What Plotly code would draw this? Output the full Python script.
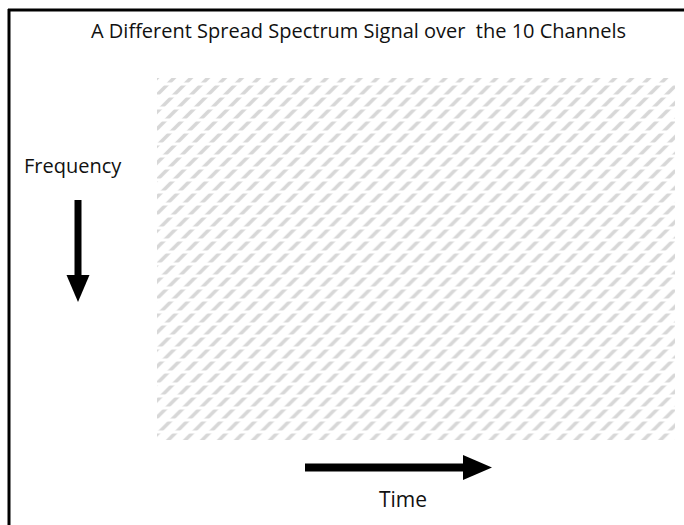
import plotly.graph_objects as go

W, H = 684, 525

# Data: one spread-spectrum signal spanning all 10 channels for the whole time window
channels = [f"Ch {i}" for i in range(1, 11)]
start_time = [0] * 10
duration = [10] * 10

title_text = "A Different Spread Spectrum Signal over  the 10 Channels"
freq_label = "Frequency"
time_label = "Time"

def px(x):
    return x / W

def py(y):
    return 1 - y / H

fig = go.Figure()

# grey diagonal hatch
fig.add_trace(go.Bar(
    y=channels, x=duration, base=start_time, orientation="h", width=1,
    marker=dict(color="white", line=dict(width=0),
                pattern=dict(shape="/", size=12, solidity=0.3,
                             fgcolor="#b0b0b0", bgcolor="white", fillmode="overlay")),
    hoverinfo="skip", showlegend=False,
))
# white horizontal cuts -> dashed look
fig.add_trace(go.Bar(
    y=channels, x=duration, base=start_time, orientation="h", width=1,
    marker=dict(color="white", line=dict(width=0),
                pattern=dict(shape="-", size=12, solidity=0.25,
                             bgcolor="rgba(0,0,0,0)", fillmode="replace")),
    hoverinfo="skip", showlegend=False,
))

shapes = [
    # border (top and left)
    dict(type="line", xref="paper", yref="paper", x0=px(8), x1=1.01, y0=py(10), y1=py(10),
         line=dict(color="black", width=3)),
    dict(type="line", xref="paper", yref="paper", x0=px(9), x1=px(9), y0=py(9), y1=-0.01,
         line=dict(color="black", width=3)),
    # frequency arrow shaft + head
    dict(type="line", xref="paper", yref="paper", x0=px(78), x1=px(78), y0=py(200), y1=py(277),
         line=dict(color="black", width=7)),
    dict(type="path", xref="paper", yref="paper",
         path=f"M {px(66.5)},{py(275)} L {px(89.5)},{py(275)} L {px(78)},{py(302)} Z",
         fillcolor="black", line=dict(width=0)),
    # time arrow shaft + head
    dict(type="line", xref="paper", yref="paper", x0=px(305), x1=px(465), y0=py(467.5), y1=py(467.5),
         line=dict(color="black", width=8)),
    dict(type="path", xref="paper", yref="paper",
         path=f"M {px(463)},{py(455)} L {px(463)},{py(480)} L {px(492)},{py(467.5)} Z",
         fillcolor="black", line=dict(width=0)),
]

font = "Open Sans"
annotations = [
    dict(text=title_text, xref="paper", yref="paper", x=px(358), y=py(31), showarrow=False,
         xanchor="center", yanchor="middle", font=dict(family=font, size=20, color="#111")),
    dict(text=freq_label, xref="paper", yref="paper", x=px(73), y=py(166), showarrow=False,
         xanchor="center", yanchor="middle", font=dict(family=font, size=20, color="#111")),
    dict(text=time_label, xref="paper", yref="paper", x=px(403), y=py(499), showarrow=False,
         xanchor="center", yanchor="middle", font=dict(family=font, size=21, color="#111")),
]

fig.update_layout(
    width=W, height=H, margin=dict(l=0, r=0, t=0, b=0),
    paper_bgcolor="white", plot_bgcolor="white",
    barmode="overlay", bargap=0,
    xaxis=dict(domain=[px(157), px(675)], range=[0, 10], visible=False, fixedrange=True),
    yaxis=dict(domain=[py(440), py(78)], autorange="reversed", visible=False, fixedrange=True),
    shapes=shapes, annotations=annotations,
)

fig.write_html("out.html", config={"displayModeBar": False},
               post_script="document.body.style.margin='0';")
